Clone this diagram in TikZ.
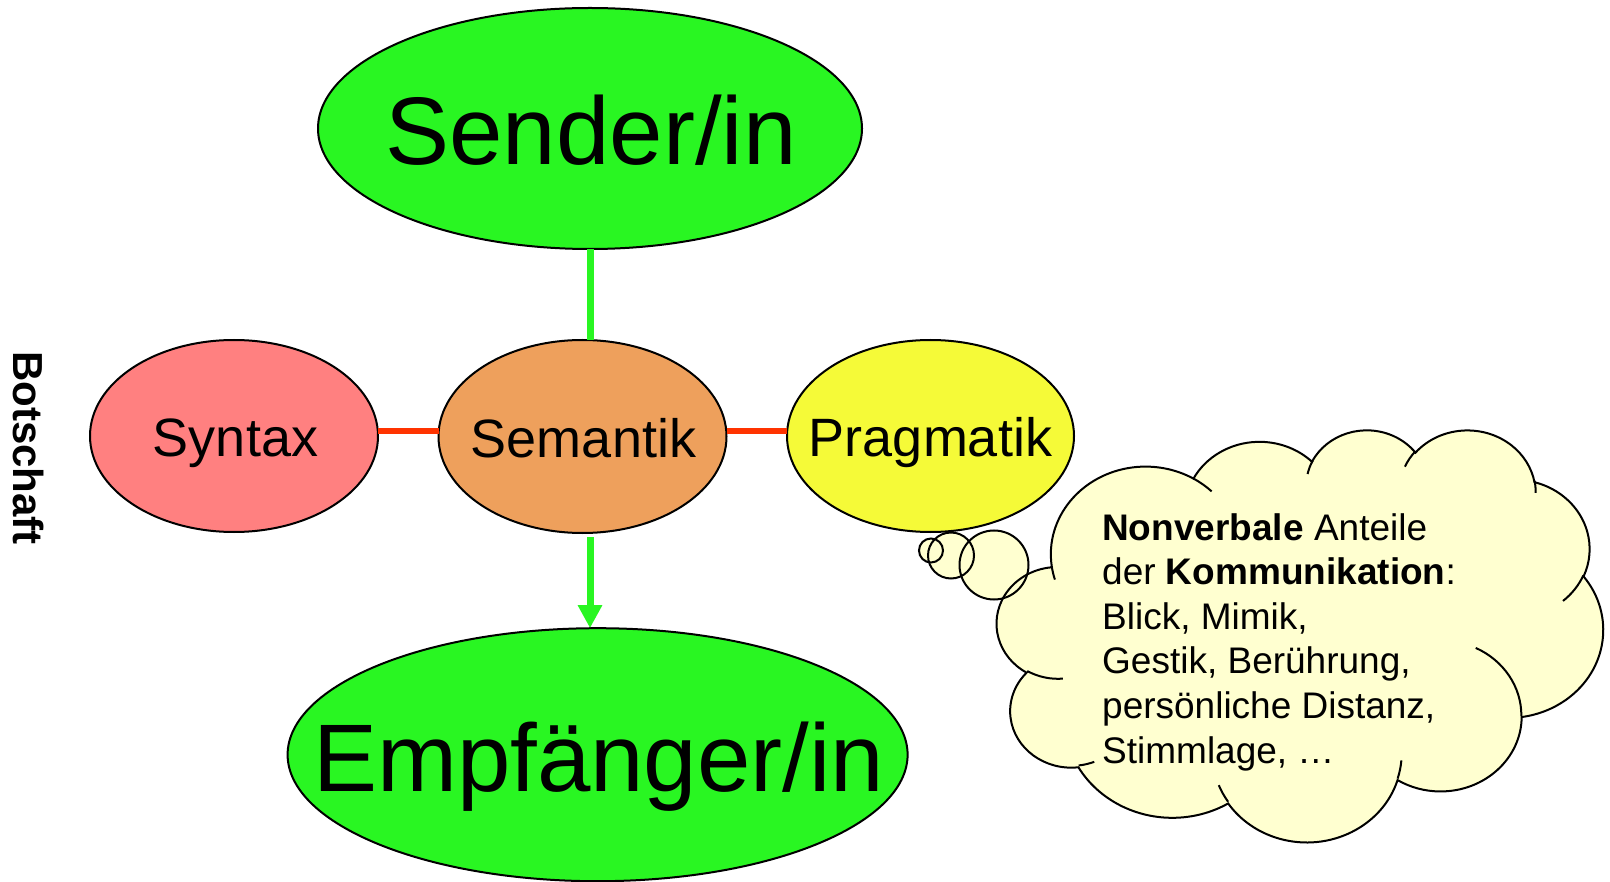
\documentclass[tikz,border=0pt]{standalone}
\usepackage{fontspec}
\setmainfont{Liberation Sans}
\usetikzlibrary{shapes.geometric,arrows.meta}
\definecolor{grn}{RGB}{41,246,34}
\definecolor{pinkfill}{RGB}{255,128,128}
\definecolor{orangefill}{RGB}{238,160,92}
\definecolor{yellowfill}{RGB}{245,250,56}
\definecolor{cloudfill}{RGB}{255,255,208}
\definecolor{redl}{RGB}{255,51,0}
% visual (OOXML) angles -> parametric angles for an arc
\newcommand\ooprep[5]{%
  \pgfmathsetmacro\tmpA{atan2((#2)*sin(#4),(#3)*cos(#4))}%
  \pgfmathsetmacro\tmpB{atan2((#2)*sin((#4)+(#5)),(#3)*cos((#4)+(#5)))}%
  \pgfmathsetmacro\tmpD{\tmpB-\tmpA}%
  \pgfmathsetmacro\tmpD{\tmpD-360*round((\tmpD-(#5))/360)}%
  \pgfmathsetmacro\tmpE{\tmpA+\tmpD}%
  \expandafter\xdef\csname oo#1s\endcsname{\tmpA}%
  \expandafter\xdef\csname oo#1e\endcsname{\tmpE}%
}
\tikzset{
  ell/.style={ellipse, draw=black, line width=2pt, inner sep=0pt, outer sep=0pt},
  bigtxt/.style={font=\fontsize{96}{110}\selectfont, inner sep=0pt, anchor=base},
  midtxt/.style={font=\fontsize{54}{64}\selectfont, inner sep=0pt, anchor=base},
  greenline/.style={draw=grn, line width=7pt},
  redline/.style={draw=redl, line width=6pt},
  outline/.style={draw=black, line width=2pt},
}
\begin{document}
\begin{tikzpicture}[x=1pt,y=-1pt]
\useasboundingbox (0,0) rectangle (1610,882);
% cloud arc angles
\ooprep{a}{675.3}{919.0}{-190.4875}{123.7805}
\ooprep{b}{533.3}{726.7}{-144.1024}{89.9452}
\ooprep{c}{436.5}{594.5}{-145.8079}{99.7230}
\ooprep{d}{485.7}{659.5}{-130.9861}{117.2417}
\ooprep{e}{533.3}{727.3}{-78.7089}{109.0269}
\ooprep{f}{677.5}{922.0}{-46.2673}{130.2690}
\ooprep{g}{578.5}{786.7}{0.6250}{114.0333}
\ooprep{h}{675.2}{921.5}{22.4516}{115.1726}
\ooprep{i}{772.0}{1054.3}{66.2426}{75.7110}
\ooprep{j}{436.0}{591.8}{-274.9421}{146.7356}
\ooprep{k}{434.5}{594.5}{-246.8285}{152.5189}
\ooprep{A}{434.5}{594.5}{86.7420}{26.4295}
\ooprep{B}{436.0}{591.8}{73.6105}{11.4475}
\ooprep{C}{675.2}{921.5}{137.6242}{14.0811}
\ooprep{D}{675.2}{921.5}{6.4533}{15.9984}
\ooprep{E}{578.5}{786.7}{-70.2924}{70.9174}
\ooprep{F}{533.3}{727.3}{30.3180}{27.7515}
\ooprep{G}{485.7}{659.5}{-13.7443}{14.8589}
\ooprep{H}{485.7}{659.5}{-149.1815}{18.1954}
\ooprep{I}{436.5}{594.5}{-163.4943}{17.6864}
\ooprep{J}{675.3}{919.0}{-66.7070}{12.3194}
\ooprep{K}{675.3}{919.0}{157.6544}{11.8582}

% main ellipses
\node[ell, fill=grn, minimum width=544pt, minimum height=241pt] (sender) at (590,128.5) {};
\node[bigtxt] (sendertext) at (591,165) {Sender/in};
\node[ell, fill=pinkfill, minimum width=288pt, minimum height=192pt] (syntax) at (234,436) {};
\node[midtxt] (syntaxtext) at (235.5,457) {Syntax};
\node[ell, fill=orangefill, minimum width=288pt, minimum height=193pt] (semantik) at (582.5,436.5) {};
\node[midtxt] (semantiktext) at (583.5,458) {Semantik};
\node[ell, fill=yellowfill, minimum width=287pt, minimum height=192pt] (pragmatik) at (930.5,436) {};
\node[midtxt] (pragmatiktext) at (930.5,457) {Pragmatik};
\node[ell, fill=grn, minimum width=620pt, minimum height=253pt] (empf) at (597.6,754.7) {};
\node[bigtxt] (empftext) at (598.5,791) {Empfänger/in};

% connectors
\coordinate (redy) at (0,431);
\draw[greenline] (sender.south) -- (sender.south |- semantik.north);
\draw[greenline, shorten <=4pt, -{Triangle[width=23pt,length=23pt]}] (sender.south |- semantik.south) -- (sender.south |- empf.north);
\draw[redline] (syntax.east |- redy) -- (semantik.west |- redy);
\draw[redline] (semantik.east |- redy) -- (pragmatik.west |- redy);

% side label
\node[rotate=-90, anchor=base, inner sep=0pt, font=\bfseries\fontsize{42}{50}\selectfont] (botschaft) at (13,448) {Botschaft};

% thought bubbles (fills)
\fill[cloudfill] (931,550.5) circle[radius=12];
\fill[cloudfill] (951,555.5) circle[radius=23];
\fill[cloudfill] (994,565) circle[radius=34.5];

% cloud
\begin{scope}[shift={(997,429)}, x=0.140278pt, y=-0.095370pt]
\path[fill=cloudfill, outline] (390,1437)
  arc[start angle=\ooas, end angle=\ooae, x radius=675.3, y radius=919.0]
  arc[start angle=\oobs, end angle=\oobe, x radius=533.3, y radius=726.7]
  arc[start angle=\oocs, end angle=\ooce, x radius=436.5, y radius=594.5]
  arc[start angle=\oods, end angle=\oode, x radius=485.7, y radius=659.5]
  arc[start angle=\ooes, end angle=\ooee, x radius=533.3, y radius=727.3]
  arc[start angle=\oofs, end angle=\oofe, x radius=677.5, y radius=922.0]
  arc[start angle=\oogs, end angle=\ooge, x radius=578.5, y radius=786.7]
  arc[start angle=\oohs, end angle=\oohe, x radius=675.2, y radius=921.5]
  arc[start angle=\oois, end angle=\ooie, x radius=772.0, y radius=1054.3]
  arc[start angle=\oojs, end angle=\ooje, x radius=436.0, y radius=591.8]
  arc[start angle=\ooks, end angle=\ooke, x radius=434.5, y radius=594.5]
  -- cycle;
\draw[outline]
  (469.3,2617.7) arc[start angle=\ooAs, end angle=\ooAe, x radius=434.5, y radius=594.5]
  (692.8,3489.9) arc[start angle=\ooBs, end angle=\ooBe, x radius=436.0, y radius=591.8]
  (1647.8,3909.0) arc[start angle=\ooCs, end angle=\ooCe, x radius=675.2, y radius=921.5]
  (2882.7,3475.1) arc[start angle=\ooDs, end angle=\ooDe, x radius=675.2, y radius=921.5]
  (3412.9,2295.4) arc[start angle=\ooEs, end angle=\ooEe, x radius=578.5, y radius=786.7]
  (4179.8,1535.4) arc[start angle=\ooFs, end angle=\ooFe, x radius=533.3, y radius=727.3]
  (3832.4,542.6) arc[start angle=\ooGs, end angle=\ooGe, x radius=485.7, y radius=659.5]
  (2907.8,395.2) arc[start angle=\ooHs, end angle=\ooHe, x radius=485.7, y radius=659.5]
  (2214.1,472.0) arc[start angle=\ooIs, end angle=\ooIe, x radius=436.5, y radius=594.5]
  (1400.0,519.2) arc[start angle=\ooJs, end angle=\ooJe, x radius=675.3, y radius=919.0]
  (412.7,1578.9) arc[start angle=\ooKs, end angle=\ooKe, x radius=675.3, y radius=919.0];
\end{scope}

% thought bubbles (outlines)
\draw[outline] (931,550.5) circle[radius=12];
\draw[outline] (951,555.5) circle[radius=23];
\draw[outline] (994,565) circle[radius=34.5];

% cloud text
\node[anchor=base west, inner sep=0pt, font=\fontsize{37}{44.6}\selectfont] (cloudtext) at (1102,540)
  {\begin{tabular}[t]{@{}l@{}}\textbf{Nonverbale} Anteile\\ der \textbf{Kommunikation}:\\ Blick, Mimik,\\ Gestik, Berührung,\\ persönliche Distanz,\\ Stimmlage, …\end{tabular}};
\end{tikzpicture}
\end{document}
